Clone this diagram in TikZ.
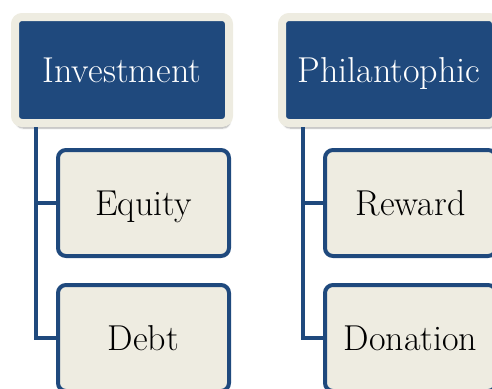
\documentclass[tikz,border=0pt]{standalone}
\usepackage{fontspec}
\usepackage{tikz}
\usetikzlibrary{shapes.geometric, shadows.blur}
\definecolor{darkblue}{RGB}{31,73,125}
\definecolor{cream}{RGB}{238,236,225}
\tikzstyle{topbox} = [rectangle, rounded corners=7pt, minimum width=214pt, minimum height=106pt, text centered, fill=darkblue, draw=cream, line width=8pt, text=white, font=\fontsize{36}{42}\selectfont, text height=24.5pt, text depth=0pt, blur shadow={shadow xshift=1pt, shadow yshift=-5pt, shadow opacity=35, shadow blur steps=6}]
\tikzstyle{subbox} = [rectangle, rounded corners=8pt, minimum width=171pt, minimum height=106pt, text centered, fill=cream, draw=darkblue, line width=4pt, font=\fontsize{36}{42}\selectfont, text height=24.5pt, text depth=0pt]
\tikzstyle{link} = [draw=darkblue, line width=4pt]

\begin{document}
\begin{tikzpicture}[x=1pt, y=-1pt]
\clip (0,0) rectangle (492,388);
\useasboundingbox (0,0) rectangle (492,388);

% Investment side
\node (Inv) [topbox] at (122,70) {Investment};
\node (Eq) [subbox] at (143.5,203) {Equity};
\node (Debt) [subbox] at (143.5,338) {Debt};

% Philantophic side
\node (Phil) [topbox] at (389,70) {Philantophic};
\node (Rew) [subbox] at (410.5,203) {Reward};
\node (Don) [subbox] at (410.5,338) {Donation};

% Connecting lines
\draw [link] ([xshift=25pt]Inv.south west) |- (Eq.west);
\draw [link] ([xshift=25pt]Inv.south west) |- (Debt.west);
\draw [link] ([xshift=25pt]Phil.south west) |- (Rew.west);
\draw [link] ([xshift=25pt]Phil.south west) |- (Don.west);

\end{tikzpicture}
\end{document}
